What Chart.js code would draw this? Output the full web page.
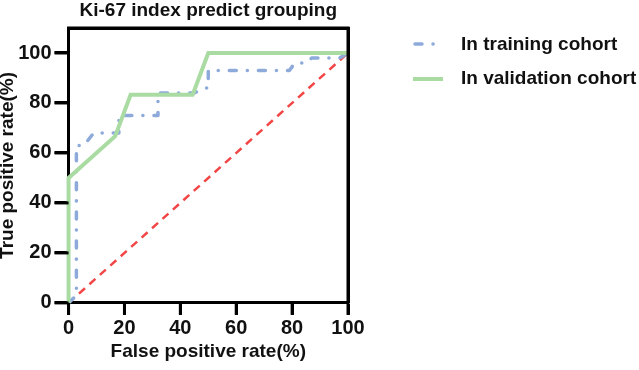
<!DOCTYPE html>
<html>
<head>
<meta charset="utf-8">
<script src="https://cdn.jsdelivr.net/npm/chart.js@4/dist/chart.umd.min.js"></script>
<style>
  html, body { margin: 0; padding: 0; background: #fff; }
  #wrap { width: 639px; height: 370px; position: relative; }
</style>
</head>
<body>
<div id="wrap"><canvas id="c" width="639" height="370"></canvas></div>
<script>
// ---- data ----
const chartTitle = "Ki-67 index predict grouping";
const xAxisTitle = "False positive rate(%)";
const yAxisTitle = "True positive rate(%)";
const seriesNames = ["In training cohort", "In validation cohort"];
const tickValues = [0, 20, 40, 60, 80, 100];

const trainFpr = [0, 2.8, 2.8, 5.5, 9, 18, 18, 32, 32, 45, 49, 50, 50, 79, 81, 85, 87, 97, 100];
const trainTpr = [0, 3, 63, 63, 68, 68, 75, 75, 84, 84, 86, 86, 93, 93, 96, 96, 98, 98, 100];

const validFpr = [0, 0, 16.7, 22.2, 44.4, 50, 100];
const validTpr = [0, 50, 66.7, 83.3, 83.3, 100, 100];

const refFpr = [0, 100];
const refTpr = [0, 100];

// ---- styles ----
const FONT = "'Liberation Sans', Arial, sans-serif";
const BLUE = '#8eaadb';
const GREEN = '#a9dba2';
const RED = '#f24646';
const BLUE_DASH = [7, 11, 0.1, 11];

const toPts = (xs, ys) => xs.map((x, i) => ({ x: x, y: ys[i] }));

function seg(ctx, x1, y1, x2, y2, color, width) {
  ctx.save();
  ctx.setLineDash([]);
  ctx.strokeStyle = color;
  ctx.lineWidth = width;
  ctx.beginPath();
  ctx.moveTo(x1, y1);
  ctx.lineTo(x2, y2);
  ctx.stroke();
  ctx.restore();
}

const decorPlugin = {
  id: 'decor',
  afterDraw(chart) {
    const a = chart.chartArea, ctx = chart.ctx;
    const xs = chart.scales.x, ys = chart.scales.y;
    // frame and tick marks placed from the library's scales
    seg(ctx, a.left - 1.5, a.top, a.right + 1.5, a.top, '#000', 3);
    seg(ctx, a.right, a.top, a.right, a.bottom, '#000', 3);
    tickValues.forEach(v => {
      const px = xs.getPixelForValue(v);
      seg(ctx, px, a.bottom, px, a.bottom + 12, '#000', 3);
      const py = ys.getPixelForValue(v);
      seg(ctx, a.left, py, a.left - 14, py, '#000', 3);
    });
    ctx.save();
    // chart title, centred over the plot area
    ctx.fillStyle = '#111';
    ctx.font = 'bold 19px ' + FONT;
    ctx.textAlign = 'center';
    ctx.textBaseline = 'middle';
    ctx.fillText(chartTitle, (a.left + a.right) / 2, 11);
    // legend
    ctx.strokeStyle = BLUE;
    ctx.lineWidth = 3.5;
    ctx.lineCap = 'round';
    ctx.setLineDash(BLUE_DASH);
    ctx.beginPath();
    ctx.moveTo(415, 44);
    ctx.lineTo(440, 44);
    ctx.stroke();
    ctx.setLineDash([]);
    ctx.lineCap = 'butt';
    ctx.strokeStyle = GREEN;
    ctx.lineWidth = 4;
    ctx.beginPath();
    ctx.moveTo(413, 79);
    ctx.lineTo(443, 79);
    ctx.stroke();
    ctx.fillStyle = '#111';
    ctx.textAlign = 'left';
    ctx.fillText(seriesNames[0], 461, 45);
    ctx.fillText(seriesNames[1], 461, 79);
    ctx.restore();
  }
};

const frameAxis = (position) => ({
  type: 'linear',
  position: position,
  display: true,
  min: 0,
  max: 1,
  grid: { display: false, drawTicks: false, drawOnChartArea: false },
  ticks: { display: false },
  border: { display: true, color: '#000', width: 3 },
  title: { display: false }
});

new Chart(document.getElementById('c'), {
  type: 'line',
  data: {
    datasets: [
      {
        label: seriesNames[1],
        data: toPts(validFpr, validTpr),
        borderColor: GREEN,
        borderWidth: 4,
        pointRadius: 0,
        tension: 0,
        clip: 6
      },
      {
        label: seriesNames[0],
        data: toPts(trainFpr, trainTpr),
        borderColor: BLUE,
        borderWidth: 3.5,
        borderDash: BLUE_DASH,
        borderCapStyle: 'round',
        borderJoinStyle: 'round',
        pointRadius: 0,
        tension: 0,
        clip: 6
      },
      {
        label: 'Reference',
        data: toPts(refFpr, refTpr),
        borderColor: RED,
        borderWidth: 2.5,
        borderDash: [8, 6],
        pointRadius: 0,
        tension: 0,
        clip: 6
      }
    ]
  },
  options: {
    responsive: false,
    animation: false,
    devicePixelRatio: 1,
    layout: { padding: { left: 0, right: 291, top: 28, bottom: 0 } },
    plugins: {
      legend: { display: false },
      tooltip: { enabled: false },
      title: { display: false }
    },
    scales: {
      x: {
        type: 'linear',
        position: 'bottom',
        min: 0,
        max: 100,
        grid: { drawOnChartArea: false, drawTicks: true, tickLength: 12, tickWidth: 3, tickColor: '#000' },
        border: { display: true, color: '#000', width: 3 },
        ticks: { stepSize: 20, color: '#111', padding: 5, maxRotation: 0,
                 font: { family: FONT, size: 20, weight: 'bold', lineHeight: 0.9 } },
        title: {
          display: true,
          text: xAxisTitle,
          color: '#111',
          font: { family: FONT, size: 19, weight: 'bold', lineHeight: 0.9 },
          padding: { top: 0, bottom: 10 }
        }
      },
      y: {
        type: 'linear',
        position: 'left',
        min: 0,
        max: 110,
        grid: { drawOnChartArea: false, drawTicks: true, tickLength: 14, tickWidth: 3, tickColor: '#000' },
        border: { display: true, color: '#000', width: 3 },
        ticks: { stepSize: 20, includeBounds: false, color: '#111', padding: 3,
                 font: { family: FONT, size: 20, weight: 'bold' } },
        title: {
          display: true,
          text: yAxisTitle,
          color: '#111',
          font: { family: FONT, size: 19, weight: 'bold', lineHeight: 0.8 },
          padding: { top: 0, bottom: 0 }
        }
      },
      xTop: frameAxis('top'),
      yRight: frameAxis('right')
    }
  },
  plugins: [decorPlugin]
});
</script>
</body>
</html>
